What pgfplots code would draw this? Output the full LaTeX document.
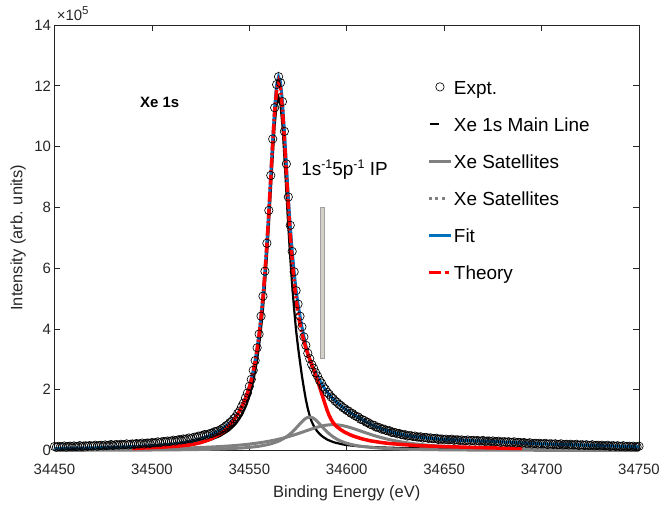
\documentclass[border=0pt]{standalone}
\usepackage{fontspec}
\setmainfont{Liberation Sans}
\usepackage{pgfplots}
\usepackage{pgfplotstable}
\pgfplotsset{compat=1.18}
\definecolor{axgray}{HTML}{262626}
\definecolor{fitblue}{HTML}{0072BD}
\definecolor{satgray}{HTML}{808080}
\definecolor{barfill}{HTML}{D4D0C8}
\definecolor{baredge}{HTML}{A0A0A0}
\newcommand{\sups}[3]{{\fontsize{#1}{#1}\selectfont\raisebox{#2}{#3}}}

\pgfplotsset{
    linelegend/.style={legend image code/.code={\draw[##1] (0bp,0bp) -- (22bp,0bp);}},
    marklegend/.style={legend image code/.code={\draw[##1] plot coordinates {(11bp,0bp)};}},
    shortlegend/.style={legend image code/.code={\draw[##1] (1bp,0bp) -- (10bp,0bp);}},
    dotlegend/.style={legend image code/.code={\draw[##1, dash pattern=on 3bp off 3.5bp] (0bp,0bp) -- (16bp,0bp);}},
    dashdotlegend/.style={legend image code/.code={\draw[##1, dash pattern=on 12bp off 4bp on 4bp off 4bp] (0bp,0bp) -- (20bp,0bp);}},
}

% fitted components (x10^5): main line, two satellites, total fit
\pgfplotstableread{
x main sat1 sat2 fit
34450 0.032 0.0064 0.0246 0.063
34455 0.035 0.0069 0.0264 0.068
34460 0.038 0.0075 0.0283 0.074
34465 0.041 0.0081 0.0305 0.080
34470 0.045 0.0089 0.0329 0.087
34475 0.050 0.0097 0.0357 0.095
34480 0.055 0.0107 0.0388 0.105
34485 0.062 0.0118 0.0422 0.116
34490 0.068 0.0131 0.0462 0.127
34495 0.075 0.0147 0.0508 0.141
34500 0.085 0.0165 0.0560 0.158
34505 0.097 0.0187 0.0621 0.178
34510 0.115 0.0214 0.0692 0.205
34515 0.140 0.0247 0.0775 0.243
34520 0.180 0.0288 0.0873 0.296
34525 0.250 0.0340 0.0991 0.383
34530 0.350 0.0407 0.1132 0.504
34535 0.480 0.0496 0.1305 0.660
34536 0.520 0.0518 0.1344 0.709
34537 0.560 0.0540 0.1384 0.751
34538 0.600 0.0564 0.1426 0.798
34539 0.640 0.0590 0.1470 0.849
34540 0.690 0.0618 0.1517 0.906
34541 0.750 0.0647 0.1565 0.970
34542 0.810 0.0679 0.1615 1.041
34543 0.880 0.0712 0.1667 1.121
34544 0.965 0.0749 0.1722 1.212
34545 1.060 0.0788 0.1779 1.315
34546 1.160 0.0830 0.1839 1.431
34547 1.290 0.0876 0.1902 1.565
34548 1.430 0.0925 0.1968 1.719
34549 1.600 0.0979 0.2036 1.897
34550 1.790 0.1037 0.2109 2.104
34551 2.020 0.1100 0.2184 2.346
34552 2.290 0.1169 0.2263 2.630
34553 2.610 0.1244 0.2346 2.966
34554 2.990 0.1327 0.2433 3.365
34555 3.450 0.1418 0.2524 3.840
34556 4.000 0.1517 0.2620 4.410
34557 4.650 0.1627 0.2720 5.085
34558 5.430 0.1749 0.2826 5.890
34559 6.350 0.1884 0.2936 6.830
34560 7.380 0.2033 0.3052 7.890
34561 8.520 0.2200 0.3173 9.060
34562 9.670 0.2386 0.3301 10.24
34563 10.69 0.2594 0.3434 11.29
34564 11.39 0.2828 0.3573 12.03
34565 11.62 0.3090 0.3720 12.30
34566 11.39 0.3385 0.3872 12.12
34567 10.69 0.3716 0.4032 11.47
34568 9.670 0.4089 0.4198 10.51
34569 8.520 0.4508 0.4372 9.42
34570 7.380 0.4977 0.4553 8.35
34571 6.350 0.5500 0.4740 7.40
34572 5.430 0.6077 0.4933 6.56
34573 4.650 0.6707 0.5133 5.87
34574 3.950 0.7383 0.5340 5.27
34575 3.400 0.8088 0.5552 4.81
34576 2.920 0.8800 0.5767 4.43
34577 2.450 0.9483 0.5986 4.06
34578 2.050 1.0092 0.6209 3.75
34579 1.680 1.0577 0.6435 3.46
34580 1.380 1.0891 0.6656 3.21
34581 1.140 1.1000 0.6877 3.01
34582 0.950 1.0891 0.7095 2.84
34583 0.820 1.0577 0.7302 2.70
34584 0.710 1.0092 0.7502 2.57
34585 0.620 0.9483 0.7692 2.44
34586 0.550 0.8800 0.7868 2.32
34587 0.490 0.8088 0.8026 2.21
34588 0.440 0.7383 0.8165 2.10
34589 0.400 0.6707 0.8283 2.01
34590 0.360 0.6077 0.8376 1.92
34591 0.330 0.5500 0.8444 1.84
34592 0.305 0.4977 0.8486 1.77
34593 0.280 0.4508 0.8500 1.70
34594 0.260 0.4089 0.8486 1.64
34595 0.245 0.3716 0.8444 1.58
34596 0.230 0.3385 0.8376 1.53
34597 0.215 0.3090 0.8283 1.47
34598 0.200 0.2828 0.8165 1.42
34599 0.190 0.2594 0.8026 1.37
34600 0.180 0.2386 0.7868 1.33
34602 0.165 0.2033 0.7502 1.24
34604 0.152 0.1749 0.7095 1.16
34606 0.141 0.1517 0.6656 1.08
34608 0.132 0.1327 0.6209 1.01
34610 0.124 0.1169 0.5767 0.94
34612 0.117 0.1037 0.5340 0.87
34614 0.110 0.0925 0.4933 0.81
34616 0.105 0.0830 0.4553 0.76
34618 0.100 0.0749 0.4198 0.71
34620 0.096 0.0679 0.3872 0.67
34622 0.092 0.0618 0.3573 0.63
34624 0.088 0.0564 0.3301 0.59
34626 0.085 0.0518 0.3052 0.56
34628 0.082 0.0477 0.2826 0.53
34630 0.079 0.0440 0.2620 0.50
34632 0.076 0.0408 0.2433 0.48
34634 0.074 0.0379 0.2263 0.47
34636 0.072 0.0353 0.2109 0.45
34638 0.070 0.0330 0.1968 0.43
34640 0.068 0.0308 0.1839 0.42
34645 0.064 0.0262 0.1565 0.39
34650 0.062 0.0226 0.1344 0.36
34655 0.060 0.0197 0.1164 0.35
34660 0.058 0.0171 0.1017 0.33
34665 0.056 0.0152 0.0895 0.32
34670 0.055 0.0135 0.0793 0.31
34675 0.053 0.0122 0.0707 0.30
34680 0.052 0.0110 0.0634 0.28
34685 0.050 0.0100 0.0571 0.27
34690 0.049 0.0092 0.0518 0.25
34695 0.047 0.0084 0.0471 0.23
34700 0.046 0.0077 0.0430 0.22
34705 0.045 0.0071 0.0394 0.21
34710 0.044 0.0066 0.0363 0.20
34715 0.043 0.0061 0.0335 0.19
34720 0.042 0.0057 0.0310 0.18
34725 0.040 0.0053 0.0288 0.17
34730 0.038 0.0049 0.0268 0.16
34735 0.036 0.0046 0.0250 0.15
34740 0.034 0.0043 0.0233 0.14
34745 0.032 0.0041 0.0219 0.13
34750 0.030 0.0038 0.0205 0.12
}\linetab

% measured spectrum
\pgfplotstableread{
x y
34450 0.13
34451 0.112
34452 0.138
34453 0.12
34454 0.126
34455 0.148
34456 0.114
34457 0.136
34458 0.142
34459 0.124
34460 0.15
34461 0.132
34462 0.138
34463 0.16
34464 0.126
34465 0.148
34466 0.154
34467 0.136
34468 0.162
34469 0.144
34470 0.15
34471 0.173
34472 0.141
34473 0.163
34474 0.171
34475 0.154
34476 0.182
34477 0.164
34478 0.172
34479 0.195
34480 0.163
34481 0.185
34482 0.193
34483 0.176
34484 0.204
34485 0.186
34486 0.194
34487 0.217
34488 0.185
34489 0.207
34490 0.215
34491 0.199
34492 0.228
34493 0.212
34494 0.221
34495 0.245
34496 0.214
34497 0.238
34498 0.247
34499 0.231
34500 0.26
34501 0.247
34502 0.258
34503 0.285
34504 0.256
34505 0.283
34506 0.294
34507 0.281
34508 0.312
34509 0.299
34510 0.31
34511 0.339
34512 0.313
34513 0.342
34514 0.356
34515 0.345
34516 0.379
34517 0.368
34518 0.382
34519 0.411
34520 0.385
34521 0.42
34522 0.44
34523 0.435
34524 0.475
34525 0.47
34526 0.49
34527 0.525
34528 0.505
34529 0.54
34530 0.56
34531 0.565
34532 0.615
34533 0.62
34534 0.65
34535 0.67
34536 0.72
34537 0.75
34538 0.81
34539 0.85
34540 0.92
34541 0.96
34542 1.05
34543 1.11
34544 1.22
34545 1.30
34546 1.44
34547 1.56
34548 1.73
34549 1.89
34550 2.11
34551 2.34
34552 2.64
34553 2.96
34554 3.38
34555 3.83
34556 4.42
34557 5.08
34558 5.90
34559 6.82
34560 7.90
34561 9.05
34562 10.25
34563 11.28
34564 12.04
34565 12.30
34566 12.10
34567 11.48
34568 10.50
34569 9.43
34570 8.34
34571 7.41
34572 6.55
34573 5.88
34574 5.26
34575 4.82
34576 4.42
34577 4.07
34578 3.74
34579 3.46
34580 3.20
34581 3.02
34582 2.83
34583 2.71
34584 2.56
34585 2.45
34586 2.31
34587 2.22
34588 2.09
34589 2.02
34590 1.91
34591 1.85
34592 1.76
34593 1.71
34594 1.63
34595 1.59
34596 1.52
34597 1.48
34598 1.41
34599 1.38
34600 1.32
34601 1.295
34602 1.23
34603 1.215
34604 1.155
34605 1.12
34606 1.10
34607 1.03
34608 1.015
34609 0.985
34610 0.93
34611 0.92
34612 0.865
34613 0.84
34614 0.83
34615 0.77
34616 0.765
34617 0.745
34618 0.70
34619 0.705
34620 0.665
34621 0.65
34622 0.65
34623 0.595
34624 0.595
34625 0.585
34626 0.55
34627 0.56
34628 0.525
34629 0.515
34630 0.52
34631 0.475
34632 0.485
34633 0.485
34634 0.46
34635 0.475
34636 0.445
34637 0.44
34638 0.45
34639 0.41
34640 0.425
34641 0.424
34642 0.398
34643 0.417
34644 0.391
34645 0.39
34646 0.404
34647 0.363
34648 0.377
34649 0.376
34650 0.35
34651 0.373
34652 0.351
34653 0.354
34654 0.372
34655 0.335
34656 0.351
34657 0.352
34658 0.328
34659 0.349
34660 0.325
34661 0.328
34662 0.346
34663 0.309
34664 0.327
34665 0.33
34666 0.308
34667 0.331
34668 0.309
34669 0.312
34670 0.33
34671 0.293
34672 0.311
34673 0.314
34674 0.292
34675 0.315
34676 0.291
34677 0.292
34678 0.308
34679 0.269
34680 0.285
34681 0.288
34682 0.266
34683 0.289
34684 0.267
34685 0.27
34686 0.286
34687 0.247
34688 0.263
34689 0.264
34690 0.24
34691 0.261
34692 0.237
34693 0.238
34694 0.254
34695 0.215
34696 0.233
34697 0.236
34698 0.214
34699 0.237
34700 0.215
34701 0.218
34702 0.236
34703 0.199
34704 0.217
34705 0.22
34706 0.198
34707 0.221
34708 0.199
34709 0.202
34710 0.22
34711 0.183
34712 0.201
34713 0.204
34714 0.182
34715 0.205
34716 0.183
34717 0.186
34718 0.204
34719 0.167
34720 0.185
34721 0.188
34722 0.166
34723 0.189
34724 0.167
34725 0.17
34726 0.188
34727 0.151
34728 0.169
34729 0.172
34730 0.15
34731 0.173
34732 0.151
34733 0.154
34734 0.172
34735 0.135
34736 0.153
34737 0.156
34738 0.134
34739 0.157
34740 0.135
34741 0.138
34742 0.156
34743 0.119
34744 0.137
34745 0.14
34746 0.118
34747 0.141
34748 0.119
34749 0.122
34750 0.14
}\expttab

% theory curve
\pgfplotstableread{
x y
34490 0.07
34495 0.08
34500 0.095
34505 0.11
34510 0.13
34515 0.155
34520 0.19
34525 0.26
34530 0.37
34535 0.55
34536 0.59
34537 0.64
34538 0.70
34539 0.77
34540 0.84
34541 0.92
34542 1.00
34543 1.09
34544 1.19
34545 1.30
34546 1.42
34547 1.55
34548 1.70
34549 1.88
34550 2.08
34551 2.32
34552 2.60
34553 2.93
34554 3.33
34555 3.80
34556 4.37
34557 5.04
34558 5.84
34559 6.77
34560 7.82
34561 8.98
34562 10.13
34563 11.14
34564 11.85
34565 12.13
34566 11.90
34567 11.22
34568 10.25
34569 9.15
34570 8.08
34571 7.10
34572 6.25
34573 5.55
34574 4.98
34575 4.52
34576 4.15
34577 3.85
34578 3.60
34579 3.38
34580 3.18
34581 3.00
34582 2.83
34583 2.66
34584 2.48
34585 2.30
34586 2.10
34587 1.90
34588 1.70
34589 1.50
34590 1.31
34591 1.15
34592 1.02
34593 0.92
34594 0.84
34595 0.78
34596 0.73
34597 0.68
34598 0.64
34599 0.60
34600 0.57
34602 0.51
34604 0.46
34606 0.42
34608 0.38
34610 0.35
34612 0.32
34614 0.30
34616 0.28
34618 0.26
34620 0.245
34622 0.23
34624 0.22
34626 0.21
34628 0.20
34630 0.19
34632 0.18
34634 0.172
34636 0.165
34638 0.158
34640 0.152
34645 0.14
34650 0.13
34655 0.12
34660 0.11
34665 0.10
34670 0.092
34675 0.085
34680 0.078
34685 0.072
34690 0.066
}\theorytab

\begin{document}
\begin{tikzpicture}
\begin{axis}[
    scale only axis,
    width=584.5bp, height=425.5bp,
    xmin=34450, xmax=34750, ymin=0, ymax=14,
    xtick={34450,34500,34550,34600,34650,34700,34750},
    xticklabels={34450,34500,34550,34600,34650,34700,34750},
    scaled x ticks=false,
    ytick={0,2,4,6,8,10,12,14},
    /pgf/number format/assume math mode=true,
    tick align=inside,
    major tick length=6bp,
    axis line style={draw=axgray, line width=0.7bp},
    every tick/.style={draw=axgray, line width=0.7bp},
    tick label style={font=\fontsize{15}{18}\selectfont, text=axgray},
    xticklabel style={yshift=-10bp},
    xlabel={Binding Energy (eV)},
    ylabel={Intensity (arb. units)},
    label style={font=\fontsize{16.5}{20}\selectfont, text=axgray},
    xlabel style={at={(axis description cs:0.5,-0.0999)}, anchor=center},
    ylabel style={at={(axis description cs:-0.0624,0.5)}, anchor=center},
    clip=false,
    legend cell align=left,
    legend style={draw=none, fill=none, inner sep=0pt,
        at={(axis description cs:0.6373,0.875)}, anchor=north west,
        font=\fontsize{19}{22}\selectfont, text=black,
        row sep=20.1bp,
        nodes={inner sep=0pt, text height=16bp, text depth=1bp},
        /tikz/every odd column/.append style={column sep=1.5bp}},
    linelegend,
]
\addplot[only marks, mark=o, mark size=4.2bp,
    mark options={draw=black, line width=0.65bp}, marklegend]
    table[x=x, y=y] {\expttab};
\addplot[black, line width=2.2bp, mark=none, shortlegend]
    table[x=x, y=main] {\linetab};
\addplot[satgray, line width=3bp, mark=none] table[x=x, y=sat1] {\linetab};
\addplot[satgray, line width=3bp, mark=none, dotlegend]
    table[x=x, y=sat2] {\linetab};
\addplot[fitblue, line width=3bp, mark=none] table[x=x, y=fit] {\linetab};
\addplot[red, line width=3.5bp, mark=none, forget plot,
    restrict x to domain=34490:34550] table[x=x, y=y] {\theorytab};
\addplot[red, line width=3.5bp, mark=none,
    dash pattern=on 10bp off 2.5bp on 2bp off 2.5bp,
    restrict x to domain=34550:34578, dashdotlegend]
    table[x=x, y=y] {\theorytab};
\addplot[red, line width=3.5bp, mark=none, forget plot,
    restrict x to domain=34578:34690] table[x=x, y=y] {\theorytab};
% ionisation threshold marker
\addplot[baredge, line width=4.6bp, line cap=butt, forget plot]
    coordinates {(34587.7,3) (34587.7,8)};
\addplot[barfill, line width=3bp, line cap=butt, forget plot]
    coordinates {(34587.7,3.03) (34587.7,7.97)};
\legend{Expt., Xe 1s Main Line, Xe Satellites, Xe Satellites, Fit, Theory}
\node[anchor=base west, inner sep=0pt, font=\fontsize{19}{22}\selectfont]
    at (axis cs:34576.6,9.04)
    {1s\sups{12.5}{7bp}{-1}5p\sups{12.5}{7bp}{-1} IP};
\node[anchor=base west, inner sep=0pt, font=\fontsize{15}{18}\selectfont\bfseries]
    at (axis cs:34493.9,11.30) {Xe 1s};
\node[anchor=base west, inner sep=0pt, font=\fontsize{15}{18}\selectfont, text=axgray]
    at (rel axis cs:0,1) [xshift=2.2bp, yshift=4.3bp]
    {×10\sups{11.5}{5.7bp}{5}};
\end{axis}
\pgfresetboundingbox
\path[use as bounding box] ([xshift=-54.5bp, yshift=-56.5bp]current axis.south west)
    rectangle ([xshift=22bp, yshift=25bp]current axis.north east);
\end{tikzpicture}
\end{document}
